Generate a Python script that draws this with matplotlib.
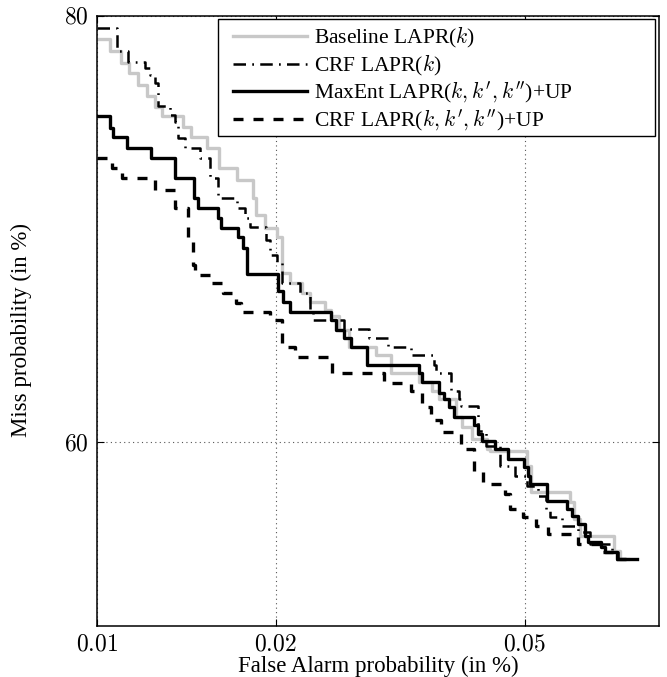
import math
from statistics import NormalDist

import numpy as np
import matplotlib
matplotlib.use('Agg')
import matplotlib.pyplot as plt
from matplotlib.patches import Rectangle

plt.rcParams['font.family'] = ['Liberation Serif', 'DejaVu Serif']
plt.rcParams['mathtext.fontset'] = 'cm'

# DET curves, values in % (false alarm, miss), drawn as steps
base_fa = [0.0100, 0.01053, 0.01099, 0.01134, 0.01175, 0.01217, 0.01256, 0.01291, 0.01400, 0.01445,
           0.01537, 0.01609, 0.01724, 0.01833, 0.01854, 0.01919, 0.02008, 0.02046, 0.02109, 0.02207,
           0.02274, 0.02406, 0.02469, 0.02544, 0.02641, 0.02919, 0.03084, 0.03420, 0.03586, 0.03678,
           0.03913, 0.03998, 0.04146, 0.04364, 0.04412, 0.05045, 0.05116, 0.05874, 0.05955, 0.06081,
           0.06847, 0.06990, 0.07186]
base_miss = [79.08, 78.64, 78.12, 77.72, 77.23, 76.76, 76.29, 75.91, 75.44, 75.01,
             74.52, 73.62, 73.08, 72.27, 71.47, 70.86, 70.44, 68.70, 68.22, 67.72,
             67.27, 66.87, 66.57, 65.87, 65.01, 64.60, 63.67, 63.20, 62.69, 62.27,
             61.37, 60.84, 60.16, 59.63, 59.52, 58.72, 57.32, 56.77, 55.85, 54.93,
             54.11, 53.67, 53.67]

crf_fa = [0.0100, 0.01082, 0.01130, 0.01208, 0.01231, 0.01256, 0.01271, 0.01332, 0.01358, 0.01374,
          0.01411, 0.01496, 0.01555, 0.01603, 0.01724, 0.01777, 0.01812, 0.01926, 0.01956, 0.02008,
          0.02046, 0.02190, 0.02274, 0.02300, 0.02592, 0.02844, 0.03051, 0.03319, 0.03612, 0.03638,
          0.03842, 0.03954, 0.03983, 0.04223, 0.04348, 0.04577, 0.04835, 0.05045, 0.05245, 0.05395,
          0.05473, 0.05710, 0.06040, 0.06298, 0.06800, 0.06942, 0.07236]
crf_miss = [79.52, 78.60, 78.16, 77.92, 77.64, 77.31, 76.34, 75.95, 75.65, 74.97,
            74.52, 74.07, 73.17, 72.27, 71.80, 71.33, 70.91, 70.30, 69.58, 69.19,
            68.22, 67.72, 66.87, 66.37, 65.92, 65.46, 65.01, 64.60, 64.08, 63.67,
            62.69, 62.27, 61.90, 60.58, 59.79, 58.72, 58.18, 57.64, 57.10, 56.28,
            55.96, 55.47, 55.15, 54.49, 54.05, 53.67, 53.67]

maxent_fa = [0.0100, 0.01053, 0.01065, 0.01125, 0.01236, 0.01358, 0.01461, 0.01484, 0.01603, 0.01622,
             0.01731, 0.01764, 0.01791, 0.02016, 0.02054, 0.02109, 0.02469, 0.02516, 0.02592, 0.02660,
             0.02823, 0.03420, 0.03458, 0.03678, 0.03745, 0.03814, 0.03884, 0.04177, 0.04223, 0.04285,
             0.04494, 0.04712, 0.04991, 0.05062, 0.05098, 0.05414, 0.05812, 0.05914, 0.06040, 0.06189,
             0.06255, 0.06543, 0.06636, 0.06918, 0.07413]
maxent_miss = [75.91, 75.39, 75.01, 74.52, 74.07, 73.17, 72.27, 71.80, 71.33, 70.86,
               70.44, 69.92, 68.65, 67.78, 67.27, 66.77, 66.37, 65.87, 65.46, 65.01,
               64.08, 63.67, 63.20, 62.63, 62.27, 61.85, 61.37, 60.95, 60.42, 60.05,
               59.63, 59.09, 58.66, 58.18, 57.75, 56.83, 56.39, 56.01, 55.58, 54.93,
               54.60, 54.33, 54.05, 53.67, 53.67]

crfup_fa = [0.0100, 0.01061, 0.01104, 0.01256, 0.01358, 0.01428, 0.01456, 0.01467, 0.01555, 0.01634,
            0.01718, 0.01751, 0.01956, 0.02046, 0.02149, 0.02478, 0.03006, 0.03319, 0.03458, 0.03573,
            0.03705, 0.03983, 0.04177, 0.04301, 0.04661, 0.04747, 0.04973, 0.05208, 0.05434, 0.06040,
            0.06521, 0.06871, 0.07236]
crfup_miss = [74.07, 73.62, 73.17, 72.63, 71.80, 70.30, 69.09, 68.61, 68.22, 67.72,
              67.22, 66.77, 66.37, 65.01, 64.49, 63.67, 63.15, 62.69, 61.85, 61.21,
              60.53, 59.63, 58.45, 57.75, 57.21, 56.39, 55.96, 55.47, 55.04, 54.49,
              54.05, 53.67, 53.67]

x_ticks = [0.01, 0.02, 0.05]
x_ticklabels = ['0.01', '0.02', '0.05']
y_ticks = [60, 80]
y_ticklabels = ['60', '80']


# normal deviate (DET) axis
def _probit(v):
    p = np.clip(np.asarray(v, dtype=float) / 100.0, 1e-12, 1 - 1e-12)
    return np.vectorize(NormalDist().inv_cdf, otypes=[float])(p)


def _unprobit(z):
    z = np.asarray(z, dtype=float)
    return 100.0 * 0.5 * np.vectorize(math.erfc, otypes=[float])(-z / math.sqrt(2))


fig = plt.figure(figsize=(6.67, 6.77), dpi=100)
ax = fig.add_axes([0.1454, 0.0753, 0.8426, 0.9011])
ax.set_xscale('function', functions=(_probit, _unprobit))
ax.set_yscale('function', functions=(_probit, _unprobit))

lw = 2.4
ax.plot(base_fa, base_miss, drawstyle='steps-post', color='#c8c8c8', lw=lw,
        label='Baseline LAPR($k$)')
ax.plot(crf_fa, crf_miss, drawstyle='steps-post', color='black', lw=1.8,
        dashes=(5, 2.5, 0.7, 2.5), label='CRF LAPR($k$)')
ax.plot(maxent_fa, maxent_miss, drawstyle='steps-post', color='black', lw=lw,
        label="MaxEnt LAPR($k,k',k''$)+UP")
ax.plot(crfup_fa, crfup_miss, drawstyle='steps-post', color='black', lw=lw,
        dashes=(3, 3), label="CRF LAPR($k,k',k''$)+UP")

ax.set_xlim(0.01, 0.08)
ax.set_ylim(50, 80)
ax.set_xticks(x_ticks)
ax.set_xticklabels(['$' + t + '$' for t in x_ticklabels])
ax.set_yticks(y_ticks)
ax.set_yticklabels(['$' + t + '$' for t in y_ticklabels])
ax.minorticks_off()
ax.tick_params(direction='in', length=5, width=0.8, top=True, right=True,
               labelsize=17, pad=6)
ax.grid(True, linestyle=(0, (1, 3)), color='#555555', lw=0.8)
for s in ax.spines.values():
    s.set_linewidth(1.1)

ax.set_xlabel('False Alarm probability (in %)', fontsize=16.5, labelpad=0)
ax.set_ylabel('Miss probability (in %)', fontsize=16.5)
ax.yaxis.set_label_coords(-0.115, 0.485)

# legend box (MATLAB style, wider than its text)
ax.add_patch(Rectangle((0.2153, 0.8033), 0.7776, 0.1918, transform=ax.transAxes,
                       facecolor='white', edgecolor='black', lw=1.0, zorder=4))
leg = ax.legend(loc='upper left', bbox_to_anchor=(0.2313, 0.5, 0.75, 0.4951),
                borderaxespad=0, fontsize=15.5, frameon=False, handlelength=3.4,
                labelspacing=0.1, borderpad=0.3, handletextpad=0.35)
leg.set_zorder(5)

fig.savefig('out.png', dpi=100)
